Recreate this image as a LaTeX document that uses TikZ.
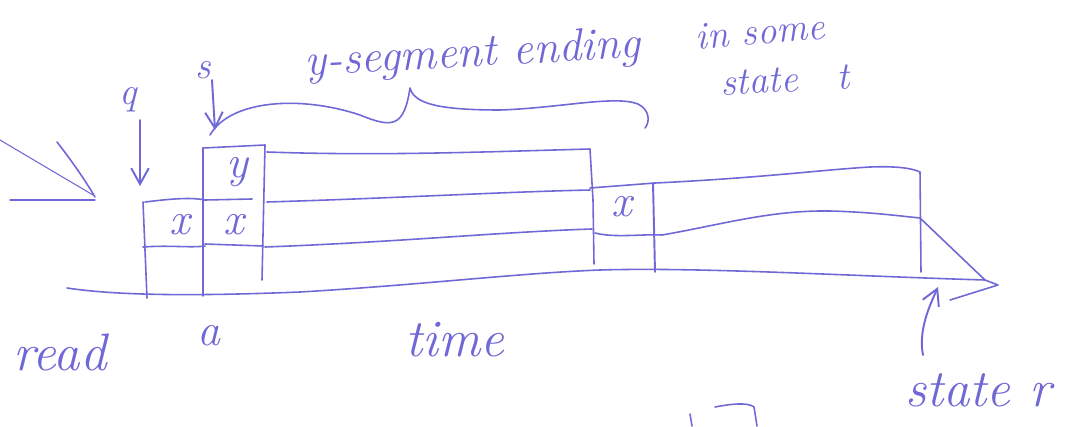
\documentclass[tikz,border=0pt]{standalone}
\usetikzlibrary{arrows.meta}
\definecolor{ink}{RGB}{112,104,214}
\begin{document}
\begin{tikzpicture}[x=0.02cm,y=-0.02cm,
  inkline/.style={draw=ink,line width=0.9pt,line cap=round,line join=round},
  inkarrow/.style={inkline,line width=1.1pt,-{Straight Barb[length=9pt,width=10pt]}},
  lbl/.style={text=ink,font=\fontsize{22}{24}\selectfont\itshape,inner sep=0pt},
  biglbl/.style={text=ink,font=\fontsize{30}{32}\selectfont\itshape,inner sep=0pt},
  cellx/.style={text=ink,font=\fontsize{26}{28}\selectfont\itshape,inner sep=0pt}]
\fill[white] (0,0) rectangle (1074,426);
\useasboundingbox (0,0) rectangle (1074,426);

% labels
\node[lbl] (q) at (128,100) {q};
\node[lbl] (s) at (203,70) {s};
\node[lbl,font=\fontsize{26}{28}\selectfont\itshape,rotate=3,anchor=west] (yseg) at (305,64) {y-segment ending};
\node[lbl,rotate=5] (insome) at (760,32) {in some};
\node[lbl,rotate=3] (statet) at (785,80) {state\quad t};
\node[biglbl] (read) at (60,352) {read};
\node[lbl,font=\fontsize{26}{28}\selectfont\itshape] (a) at (209,336) {a};
\node[biglbl] (time) at (455,340) {time};
\node[biglbl] (stater) at (978,390) {state r};

% arrows to cells
\coordinate (qtail) at (140,120);
\coordinate (qtip) at (140,186);
\draw[inkarrow] (qtail) -- (qtip);
\coordinate (stail) at (212,80);
\coordinate (stip) at (215,130);
\draw[inkarrow] (stail) -- (stip);

% brace over the y-segment
\coordinate (braceL) at (210,135);
\coordinate (braceT) at (410,88);
\coordinate (braceR) at (645,128);
\draw[inkline] (braceL) .. controls (230,100) and (300,95) .. (360,115)
  .. controls (392,128) and (404,128) .. (braceT)
  .. controls (414,104) and (440,110) .. (500,110)
  .. controls (560,108) and (615,95) .. (638,104)
  .. controls (650,110) and (650,122) .. (braceR);

% left arrow head fragment
\draw[inkline,line width=0.6pt] (0,140) -- (93,195);
\draw[inkline] (57,142) .. controls (75,165) and (88,185) .. (95,197);
\draw[inkline,line width=0.6pt] (10,200) -- (95,200);

% q cell column
\draw[inkline] (145,202) .. controls (170,199) and (190,197) .. (205,200);
\draw[inkline] (143,202) -- (147,298);
\draw[inkline] (143,247) .. controls (170,245) and (190,248) .. (205,246);
% s column
\draw[inkline] (203,148) -- (203,296);
\draw[inkline] (203,148) -- (265,145) -- (262,280);
\draw[inkline] (205,200) -- (252,199);
\draw[inkline] (205,244) -- (263,246);

% cell contents
\node[cellx] (x1) at (180,225) {x};
\node[cellx] (x2) at (234,225) {x};
\node[cellx] (y1) at (237,172) {y};
\node[cellx] (x3) at (622,207) {x};

% long rows
\draw[inkline] (267,152) .. controls (380,156) and (480,152) .. (590,149) -- (593,200) -- (594,264);
\draw[inkline] (267,202) .. controls (400,198) and (500,192) .. (590,190);
\draw[inkline] (590,188) -- (655,183)
  .. controls (760,178) and (820,170) .. (870,167)
  .. controls (895,166) and (912,168) .. (920,172) -- (921,272);
\draw[inkline] (265,247) .. controls (400,242) and (500,232) .. (592,229);
\draw[inkline] (595,233) .. controls (615,238) and (640,234) .. (662,235)
  .. controls (720,225) and (770,210) .. (830,211)
  .. controls (870,212) and (900,216) .. (920,218) -- (985,280);
\draw[inkline,line width=1.1pt] (653,183) -- (655,272);

% time axis
\draw[inkline] (67,288) .. controls (120,296) and (200,296) .. (300,292)
  .. controls (420,285) and (520,273) .. (600,270)
  .. controls (700,267) and (850,276) .. (985,280) -- (998,285) -- (950,300);

% arrow to state r
\coordinate (rtail) at (923,355);
\coordinate (rtip) at (938,287);
\draw[inkarrow] (rtail) .. controls (918,330) and (930,305) .. (rtip);

% partial scribble at bottom edge
\draw[inkline] (690,414) -- (692,426);
\draw[inkline] (715,407) .. controls (730,404) and (748,402) .. (754,407) -- (757,426);
\end{tikzpicture}
\end{document}
